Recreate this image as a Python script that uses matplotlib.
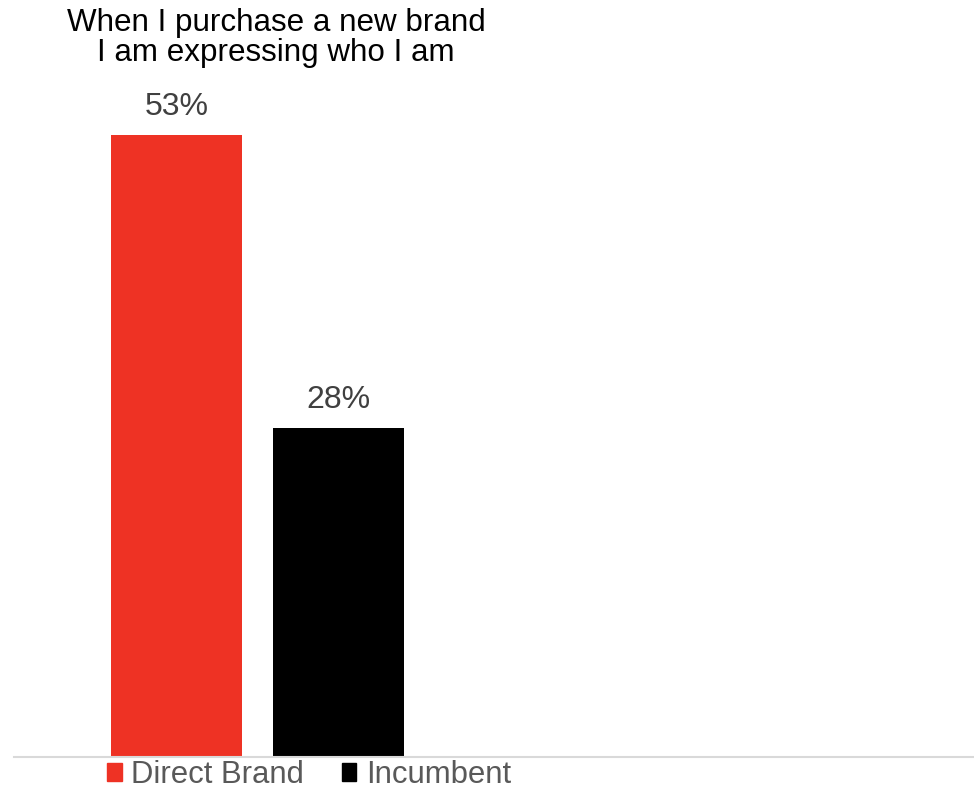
import matplotlib.pyplot as plt
from matplotlib.patches import Patch

plt.rcParams['font.family'] = ['Liberation Sans', 'DejaVu Sans']

title = "When I purchase a new brand\nI am expressing who I am"
series = ["Direct Brand", "Incumbent"]
values = [53, 28]
colors = ["#ee3224", "#000000"]

W, H = 974, 791
fig = plt.figure(figsize=(W / 100, H / 100), dpi=100)

# plot area: baseline at y=757px, 11.74 px per percentage point
base_px = 757
ppu = 11.74
ax = fig.add_axes([14 / W, (H - base_px) / H, (W - 14) / W, base_px / H])
ax.set_ylim(0, base_px / ppu)
ax.set_xlim((14 - 176.5) / 162, (974 - 176.5) / 162)

xs = range(len(values))
bars = ax.bar(xs, values, width=131 / 162, color=colors)
for x, v in zip(xs, values):
    ax.text(x, v + 13 / ppu, f"{v}%", ha="center", va="bottom",
            fontsize=23, color="#404040")

for s in ["top", "right", "left"]:
    ax.spines[s].set_visible(False)
ax.spines["bottom"].set_color("#d9d9d9")
ax.spines["bottom"].set_linewidth(1.5)
ax.set_xticks([])
ax.set_yticks([])

fig.text(276 / W, 1 - 8 / H, title, ha="center", va="top", fontsize=22.6,
         color="#000000", linespacing=0.98)

# legend sits in the strip under the baseline
handles = [Patch(color=c, label=s) for c, s in zip(colors, series)]
fig.legend(handles=handles, loc="center", bbox_to_anchor=(309 / W, 1 - 775 / H),
           ncol=2, frameon=False, fontsize=22.4, handlelength=0.48, handleheight=0.48,
           handletextpad=0.3, columnspacing=1.2, labelcolor="#595959",
           borderpad=0, borderaxespad=0)

fig.savefig("out.png", dpi=100)
